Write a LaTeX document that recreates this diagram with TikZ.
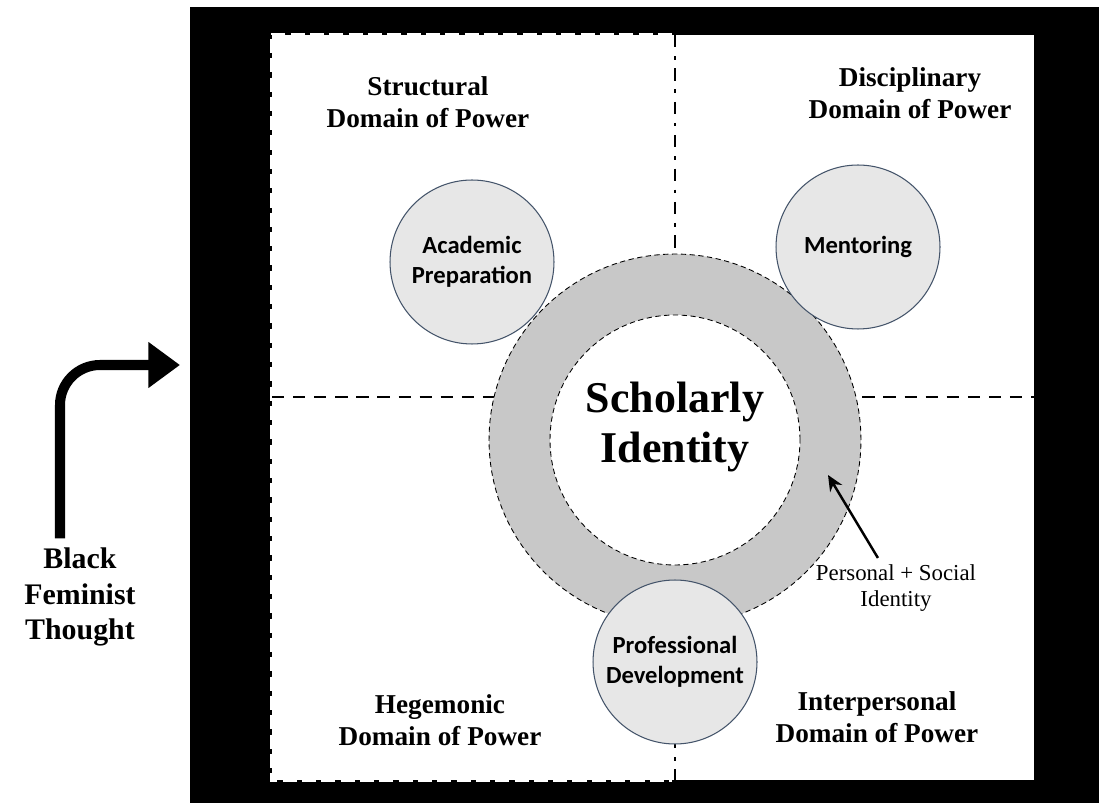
\documentclass[tikz,border=0pt]{standalone}
\usepackage{fontspec}
\setmainfont{Liberation Serif}
\newfontfamily\calibri{Carlito}
\usetikzlibrary{arrows.meta}

\definecolor{ringgray}{HTML}{C8C8C8}
\definecolor{bubble}{HTML}{E7E7E7}
\definecolor{bubbleline}{HTML}{44546A}

\tikzset{
  powerlabel/.style={align=center, font=\fontsize{15.5}{18}\selectfont\bfseries},
  factor/.style={circle, draw=bubbleline, fill=bubble, line width=0.6pt,
    minimum size=3.28cm, inner sep=0pt, align=center,
    font=\calibri\fontsize{14}{17}\selectfont\bfseries},
  idring/.style={circle, draw, dash pattern=on 3pt off 2pt, line width=0.5pt, inner sep=0pt},
  divider/.style={line width=1.6pt, dash pattern=on 7pt off 5pt},
}

\begin{document}
\begin{tikzpicture}[x=0.02cm, y=-0.02cm]
\useasboundingbox (0,0) rectangle (1099,803);
% frame
\fill[black] (190,7) rectangle (1099,803);
\fill[white] (272,35) rectangle (1034,780);
\draw[white, line width=1.6pt, dash pattern=on 8pt off 3pt] (672,34) -- (271,34) -- (271,781) -- (672,781);
% quadrant dividers
\draw[line width=1.6pt, dash pattern=on 7pt off 5pt on 2pt off 5pt] (675,35) -- (675,780);
\draw[divider] (272,397) -- (1034,397);
% identity ring
\node[idring, fill=ringgray, minimum size=7.44cm] (outer) at (675,440) {};
\node[idring, fill=white, minimum size=5cm] (inner) at (675,440) {};
\node[align=center, font=\fontsize{25}{29}\selectfont\bfseries] (sid) at (675,427) {Scholarly\\Identity};
% factors
\node[factor] (prep) at (472,262) {Academic\\Preparation};
\node[factor] (ment) at (858,247) {Mentoring};
\node[factor] (prof) at (675,662) {Professional\\Development};
% domains of power
\node[powerlabel] (struct) at (428,102) {Structural\\Domain of Power};
\node[powerlabel] (disc) at (910,93) {Disciplinary\\Domain of Power};
\node[powerlabel] (hege) at (440,720) {Hegemonic\\Domain of Power};
\node[powerlabel] (inter) at (877,717) {Interpersonal\\Domain of Power};
% ring label
\node[align=center, font=\fontsize{13}{15.3}\selectfont] (plabel) at (896,588) {Personal + Social\\Identity};
\coordinate (ptip) at (828,475);
\draw[line width=1.4pt, -{Stealth[length=9pt,width=8pt]}] (plabel) -- (ptip);
% lens
\node[align=center, font=\fontsize{17}{20}\selectfont\bfseries] (bft) at (80,597) {Black\\Feminist\\Thought};
\coordinate (btip) at (180,365);
\draw[line width=5.7pt, rounded corners=0.8cm, -{Triangle[length=18pt,width=25pt]}] ([xshift=-0.4cm,yshift=2pt]bft.north) |- (btip);
\end{tikzpicture}
\end{document}
